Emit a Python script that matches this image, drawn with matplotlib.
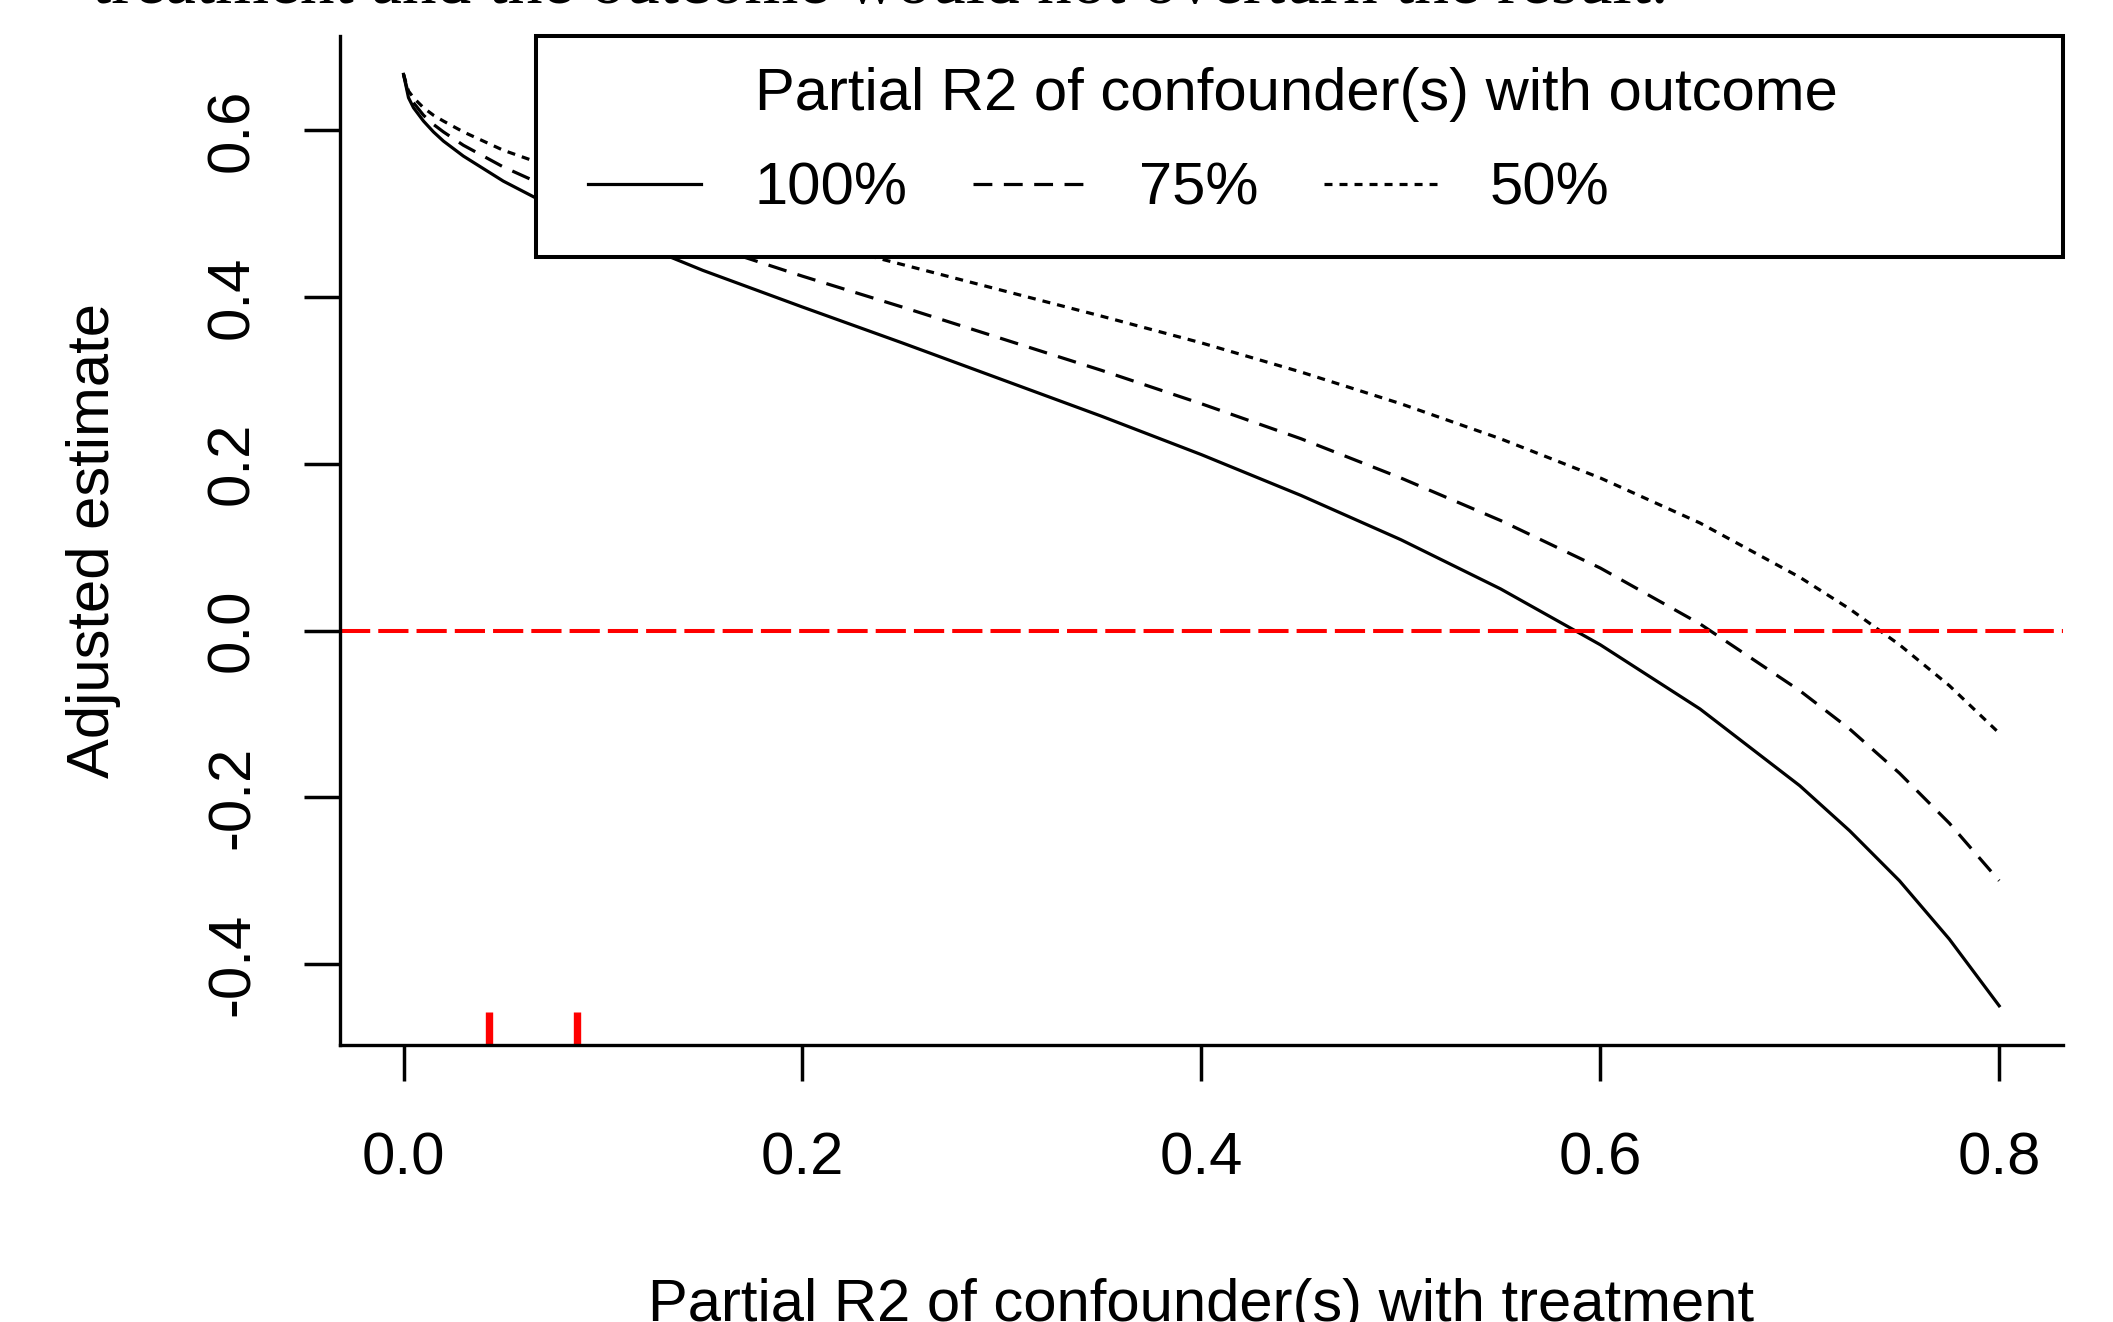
import matplotlib
matplotlib.use("Agg")
import matplotlib.pyplot as plt
from matplotlib.patches import Rectangle

plt.rcParams['font.family'] = ['Liberation Sans', 'DejaVu Sans']
plt.rcParams['axes.unicode_minus'] = False

# partial R2 of confounder(s) with treatment
r2_treat = [0.0, 0.0025, 0.005, 0.01, 0.015, 0.02, 0.03, 0.05, 0.075, 0.1, 0.15, 0.2, 0.25,
            0.3, 0.35, 0.4, 0.45, 0.5, 0.55, 0.6, 0.65, 0.7, 0.725, 0.75, 0.775, 0.8]
# adjusted estimate for each partial R2 with outcome
est_100 = [0.667, 0.639, 0.627, 0.611, 0.598, 0.587, 0.569, 0.539, 0.508, 0.481, 0.432, 0.388, 0.345,
           0.301, 0.257, 0.211, 0.162, 0.109, 0.050, -0.017, -0.094, -0.186, -0.240, -0.300, -0.370, -0.450]
est_75 = [0.667, 0.643, 0.633, 0.618, 0.607, 0.598, 0.582, 0.556, 0.529, 0.506, 0.464, 0.425, 0.388,
          0.350, 0.312, 0.272, 0.230, 0.183, 0.132, 0.075, 0.008, -0.072, -0.118, -0.171, -0.231, -0.300]
est_50 = [0.667, 0.647, 0.639, 0.627, 0.618, 0.611, 0.598, 0.576, 0.555, 0.535, 0.501, 0.470, 0.439,
          0.408, 0.377, 0.345, 0.310, 0.272, 0.230, 0.183, 0.129, 0.064, 0.026, -0.017, -0.066, -0.123]
outcome_labels = ['100%', '75%', '50%']
rug_x = [0.043, 0.087]
xticks = [0.0, 0.2, 0.4, 0.6, 0.8]
yticks = [-0.4, -0.2, 0.0, 0.2, 0.4, 0.6]

W, H = 2113, 1322
AX_L, AX_R, AX_T, AX_B = 339.7, 2063, 36, 1045

def ax_x(px):
    return (px - AX_L) / (AX_R - AX_L)

def ax_y(py):
    return (AX_B - py) / (AX_B - AX_T)

FS = 43
fig = plt.figure(figsize=(W / 100, H / 100), dpi=100)
ax = fig.add_axes([AX_L / W, 1 - AX_B / H, (AX_R - AX_L) / W, (AX_B - AX_T) / H])

lw = 2.3
l1, = ax.plot(r2_treat, est_100, color='black', lw=lw, linestyle='-')
l2, = ax.plot(r2_treat, est_75, color='black', lw=lw, linestyle=(0, (5.9, 3.6)))
l3, = ax.plot(r2_treat, est_50, color='black', lw=lw, linestyle=(0, (2.5, 2.2)))
ax.axhline(0, color='red', lw=2.9, linestyle=(0, (7.5, 2.0)))
ax.vlines(rug_x, 0, 0.0327, transform=ax.get_xaxis_transform(), color='red', lw=5.3,
          capstyle='butt')

ax.set_xlim(-0.032, 0.832)
ax.set_ylim(-0.497, 0.713)
ax.set_xticks(xticks, labels=[f'{v:.1f}' for v in xticks])
ax.set_yticks(yticks, labels=[f'{v:.1f}' for v in yticks])

for s in ['top', 'right']:
    ax.spines[s].set_visible(False)
for s in ['left', 'bottom']:
    ax.spines[s].set_linewidth(2.4)
ax.tick_params(direction='out', length=26, width=2.5, labelsize=FS)
ax.tick_params(axis='x', pad=36)
ax.tick_params(axis='y', pad=31, labelrotation=90)
for lbl in ax.get_yticklabels():
    lbl.set_va('center')

ax.set_xlabel('Partial R2 of confounder(s) with treatment', fontsize=FS)
ax.xaxis.set_label_coords(0.5, ax_y(1278))
ax.set_ylabel('Adjusted estimate', fontsize=FS)
ax.yaxis.set_label_coords(ax_x(121), 0.5)

# legend box
box = Rectangle((ax_x(536), ax_y(256.5)), 1 - ax_x(536), 1 - ax_y(256.5), transform=ax.transAxes,
                facecolor='white', edgecolor='black', lw=2.9, clip_on=False, zorder=5)
ax.add_patch(box)
ax.text(ax_x(1296), ax_y(110), 'Partial R2 of confounder(s) with outcome', fontsize=FS,
        ha='center', va='baseline', transform=ax.transAxes, zorder=6)
leg = ax.legend([l1, l2, l3], outcome_labels, ncol=3, loc='center left',
                bbox_to_anchor=(ax_x(588), ax_y(189)), frameon=False, borderpad=0,
                borderaxespad=0, handlelength=1.89, handletextpad=0.89, columnspacing=1.1,
                fontsize=FS)
leg.set_zorder(6)

# text from the page above the figure, mostly cut off
top = fig.text(92 / W, 1 - 3 / H, 'treatment and the outcome would not overturn the result.',
               family='Liberation Serif', fontsize=40, ha='left', va='baseline')
fig.canvas.draw()
wpx = top.get_window_extent(fig.canvas.get_renderer()).width
top.set_fontsize(40 * 1573 / wpx)

fig.savefig('out.png', dpi=100)
